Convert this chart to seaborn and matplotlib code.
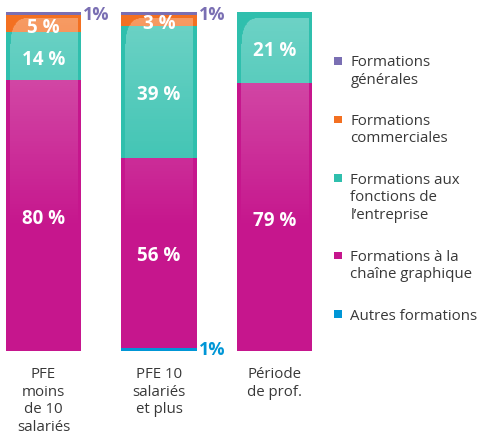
import numpy as np
import pandas as pd
import matplotlib.pyplot as plt
from matplotlib.patches import Rectangle
import seaborn as sns

categories = ["PFE\nmoins\nde 10\nsalariés", "PFE 10\nsalariés\net plus", "Période\nde prof."]

# series from bottom to top of the stack
series = ["Autres formations",
          "Formations à la\nchaîne graphique",
          "Formations aux\nfonctions de\nl’entreprise",
          "Formations\ncommerciales",
          "Formations\ngénérales"]
autres = [0, 1, 0]
chaine = [80, 56, 79]
fonctions = [14, 39, 21]
commerciales = [5, 3, 0]
generales = [1, 1, 0]
colors = ["#0096d6", "#c6168d", "#2fbfad", "#f37021", "#7a6fb3"]

values = np.array([autres, chaine, fonctions, commerciales, generales], dtype=float)
cumul = values.cumsum(axis=0)

sns.set_style("white")
plt.rcParams["font.family"] = ["Open Sans", "DejaVu Sans"]
text_grey = "#383838"

W, H = 479, 435
fig = plt.figure(figsize=(W / 100, H / 100), dpi=100)
ax = fig.add_axes([6 / W, 83 / H, 306 / W, 339 / H])

bar_w = 0.65
containers = {}
# draw cumulative totals, tallest first, so each segment covers the one above
for i in reversed(range(len(series))):
    df = pd.DataFrame({"cat": categories, "val": cumul[i]})
    sns.barplot(data=df, x="cat", y="val", order=categories, color=colors[i],
                saturation=1, width=bar_w, errorbar=None, linewidth=0, ax=ax)
    containers[i] = ax.containers[-1]

# glossy highlight on each bar
hh, ww = 220, 70
v = np.linspace(0, 1, hh)[:, None]
u = np.linspace(0, 1, ww)[None, :]
alpha = 0.3 * (1 - v) * np.ones_like(u)
a, b = 0.2, 0.12
corner = (u < a) & (v < b) & (((u - a) / a) ** 2 + ((v - b) / b) ** 2 > 1)
alpha[corner] = 0
img = np.ones((hh, ww, 4))
img[..., 3] = alpha
inset = bar_w * 4 / 75
for bar in containers[len(series) - 1]:
    x0 = bar.get_x() + inset
    x1 = bar.get_x() + bar.get_width() - inset
    ax.imshow(img, extent=[x0, x1, 36, 98], aspect="auto", zorder=3,
              interpolation="bilinear")

ax.set_xlim(-bar_w / 2, len(categories) - 1 + bar_w / 2)
ax.set_ylim(0, 100)

# value labels
for i, cont in containers.items():
    for j, bar in enumerate(cont):
        val = values[i, j]
        if val == 0:
            continue
        yc = cumul[i, j] - val / 2
        if val >= 2:
            ax.annotate(f"{val:.0f} %", xy=(bar.get_x() + bar.get_width() / 2, yc),
                        xytext=(0, -2), textcoords="offset points",
                        color="white", fontsize=13.5, fontweight="bold",
                        ha="center", va="center", zorder=5)
        else:
            ax.annotate(f"{val:.0f}%", xy=(bar.get_x() + bar.get_width(), yc),
                        xytext=(1.5, 0), textcoords="offset points",
                        color=colors[i], fontsize=13, fontweight="bold",
                        ha="left", va="center", annotation_clip=False, zorder=5)

ax.set_xlabel("")
ax.set_ylabel("")
ax.set_yticks([])
ax.tick_params(axis="x", length=0, pad=11, labelsize=10.8, labelcolor=text_grey)
for lbl in ax.get_xticklabels():
    lbl.set_linespacing(1.23)
sns.despine(ax=ax, left=True, bottom=True)

# legend, top entry first
y = 55
for i in reversed(range(len(series))):
    lab = series[i]
    fig.text(350.5 / W, 1 - y / H, lab, fontsize=10.8, linespacing=1.23,
             color=text_grey, ha="left", va="top")
    fig.add_artist(Rectangle((334 / W, 1 - (y + 10.5) / H), 7.7 / W, 7.7 / H,
                             transform=fig.transFigure, color=colors[i], lw=0))
    y += (lab.count("\n") + 1) * 18.4 + 22

fig.savefig("out.png", dpi=100)
